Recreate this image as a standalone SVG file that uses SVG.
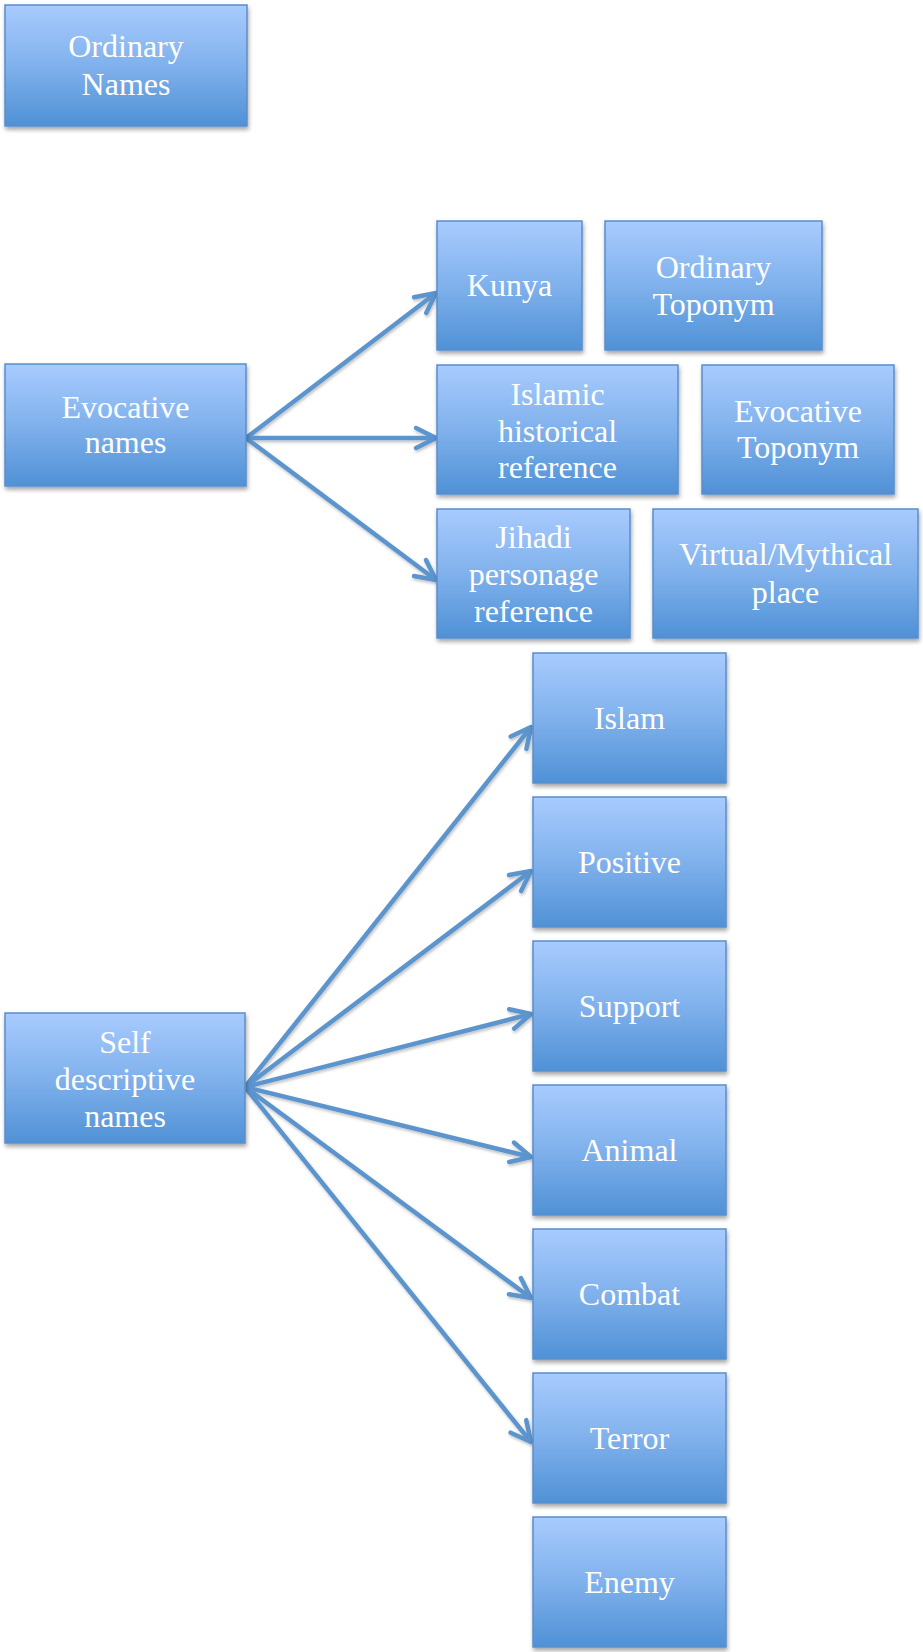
<svg xmlns="http://www.w3.org/2000/svg" width="923" height="1652" viewBox="0 0 923 1652">
<defs>
<linearGradient id="g" x1="0" y1="0" x2="0" y2="1">
<stop offset="0" stop-color="#A8CBFE"/>
<stop offset="0.5" stop-color="#80B1EC"/>
<stop offset="1" stop-color="#4F91D6"/>
</linearGradient>
<filter id="sh" x="-10%" y="-10%" width="125%" height="130%">
<feDropShadow dx="1" dy="3" stdDeviation="2" flood-color="#000" flood-opacity="0.35"/>
</filter>
<filter id="lsh" x="-10%" y="-10%" width="125%" height="130%">
<feDropShadow dx="1" dy="2" stdDeviation="1.5" flood-color="#000" flood-opacity="0.25"/>
</filter>
<marker id="ah" viewBox="-26 -14 30 28" refX="0" refY="0" markerWidth="30" markerHeight="28" markerUnits="userSpaceOnUse" orient="auto">
<path d="M-20,-10 L0,0 L-20,10" fill="none" stroke="#5B94CE" stroke-width="4.5" stroke-linecap="round" stroke-linejoin="round"/>
</marker>
</defs>
<style>
.box{fill:url(#g);stroke:#5A8FCC;stroke-width:1.5;filter:url(#sh)}
.t{font-family:"Liberation Serif","Times New Roman",serif;font-size:32px;fill:#fff;text-anchor:middle}
.c{fill:none;stroke:#5B94CE;stroke-width:4.5;marker-end:url(#ah)}
</style>
<rect width="923" height="1652" fill="#fff"/>
<g id="connectors" filter="url(#lsh)">
<line class="c" x1="246" y1="438" x2="436" y2="293"/>
<line class="c" x1="246" y1="438" x2="436" y2="438"/>
<line class="c" x1="246" y1="438" x2="436" y2="580"/>
<line class="c" x1="245" y1="1087" x2="531" y2="727"/>
<line class="c" x1="245" y1="1087" x2="531" y2="871"/>
<line class="c" x1="245" y1="1087" x2="531" y2="1014"/>
<line class="c" x1="245" y1="1087" x2="531" y2="1157"/>
<line class="c" x1="245" y1="1087" x2="531" y2="1298"/>
<line class="c" x1="245" y1="1087" x2="531" y2="1442"/>
</g>
<g id="ordinary-names"><rect class="box" x="5" y="5" width="242" height="121"/><text class="t" x="126" y="57">Ordinary</text><text class="t" x="126" y="95">Names</text></g>
<g id="evocative-names"><rect class="box" x="5" y="364" width="241" height="122"/><text class="t" x="125.5" y="418">Evocative</text><text class="t" x="125.5" y="453">names</text></g>
<g id="kunya"><rect class="box" x="437" y="221" width="145" height="129"/><text class="t" x="509.5" y="296">Kunya</text></g>
<g id="ordinary-toponym"><rect class="box" x="605" y="221" width="217" height="129"/><text class="t" x="713.5" y="278">Ordinary</text><text class="t" x="713.5" y="315">Toponym</text></g>
<g id="islamic-historical-reference"><rect class="box" x="437" y="365" width="241" height="129"/><text class="t" x="557.5" y="405">Islamic</text><text class="t" x="557.5" y="442">historical</text><text class="t" x="557.5" y="478">reference</text></g>
<g id="evocative-toponym"><rect class="box" x="702" y="365" width="192" height="129"/><text class="t" x="798" y="422">Evocative</text><text class="t" x="798" y="458">Toponym</text></g>
<g id="jihadi-personage-reference"><rect class="box" x="437" y="509" width="193" height="129"/><text class="t" x="533.5" y="548">Jihadi</text><text class="t" x="533.5" y="585">personage</text><text class="t" x="533.5" y="622">reference</text></g>
<g id="virtual-mythical-place"><rect class="box" x="653" y="509" width="265" height="129"/><text class="t" x="785.5" y="565">Virtual/Mythical</text><text class="t" x="785.5" y="603">place</text></g>
<g id="self-descriptive-names"><rect class="box" x="5" y="1013" width="240" height="130"/><text class="t" x="125" y="1053">Self</text><text class="t" x="125" y="1090">descriptive</text><text class="t" x="125" y="1127">names</text></g>
<g id="islam"><rect class="box" x="533" y="653" width="193" height="130"/><text class="t" x="629.5" y="729">Islam</text></g>
<g id="positive"><rect class="box" x="533" y="797" width="193" height="130"/><text class="t" x="629.5" y="873">Positive</text></g>
<g id="support"><rect class="box" x="533" y="941" width="193" height="130"/><text class="t" x="629.5" y="1017">Support</text></g>
<g id="animal"><rect class="box" x="533" y="1085" width="193" height="130"/><text class="t" x="629.5" y="1161">Animal</text></g>
<g id="combat"><rect class="box" x="533" y="1229" width="193" height="130"/><text class="t" x="629.5" y="1305">Combat</text></g>
<g id="terror"><rect class="box" x="533" y="1373" width="193" height="130"/><text class="t" x="629.5" y="1449">Terror</text></g>
<g id="enemy"><rect class="box" x="533" y="1517" width="193" height="130"/><text class="t" x="629.5" y="1593">Enemy</text></g>
</svg>
